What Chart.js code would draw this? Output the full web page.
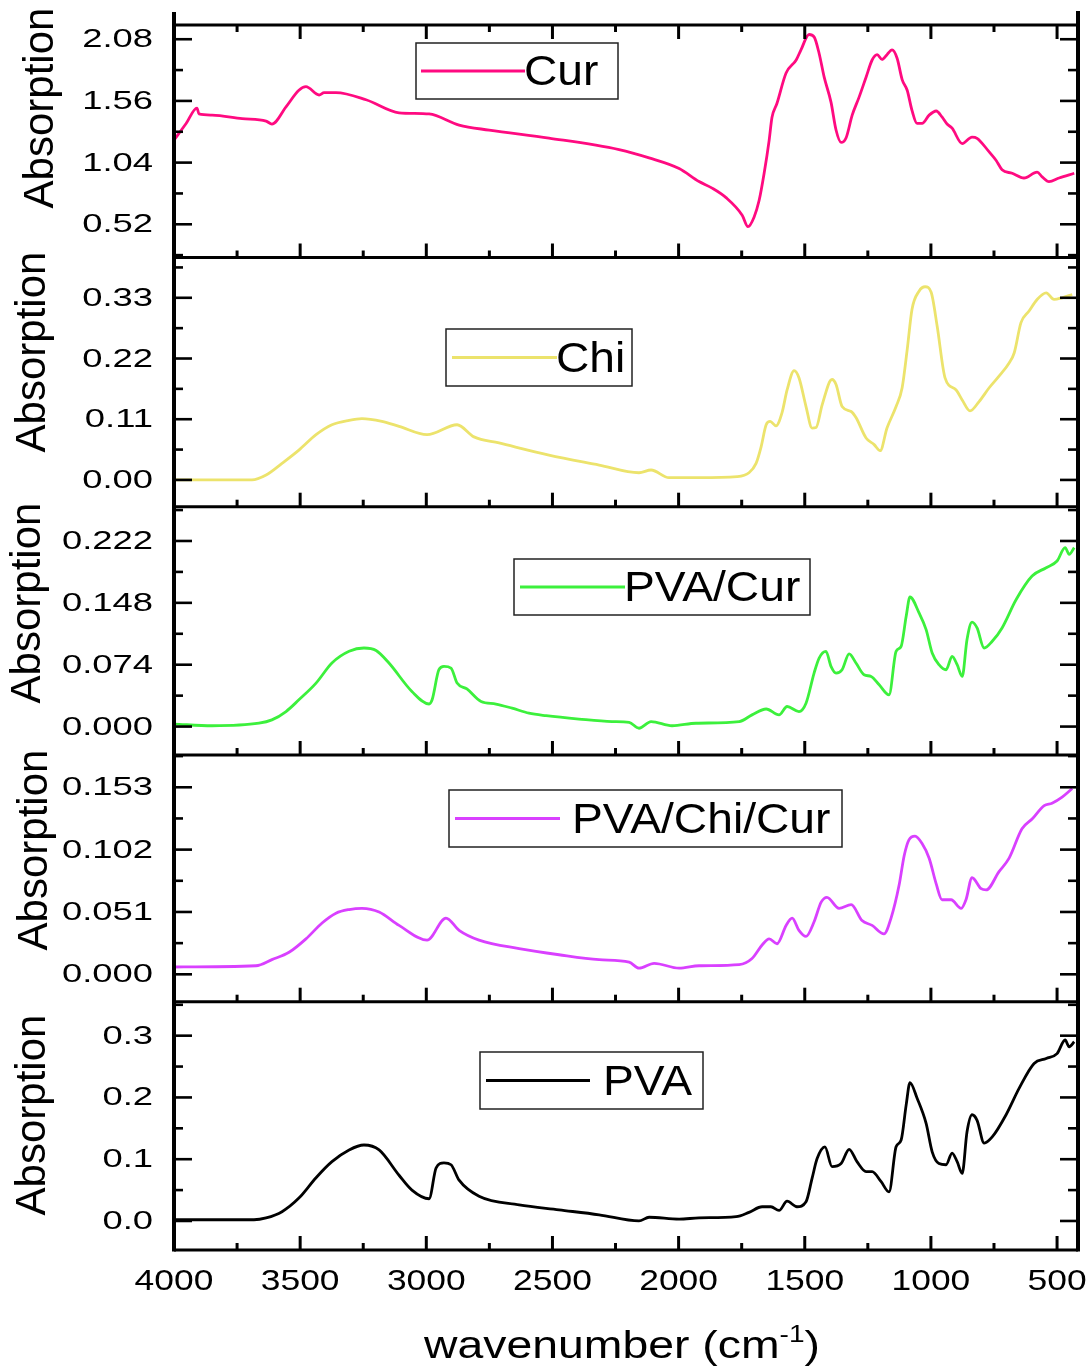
<!DOCTYPE html>
<html>
<head>
<meta charset="utf-8">
<script src="https://cdn.jsdelivr.net/npm/chart.js@4.4.1/dist/chart.umd.min.js"></script>
<style>
  html, body { margin: 0; padding: 0; background: #fff; }
  #wrap { width: 1091px; height: 1369px; }
</style>
</head>
<body>
<div id="wrap"><canvas id="ftir" width="1091" height="1369"></canvas></div>
<script>
// x axis (wavenumber, cm-1) ticks, shared by all panels
const wnTicks = [4000, 3500, 3000, 2500, 2000, 1500, 1000, 500];

// y tick values for each panel
const curTicks = [0.52, 1.04, 1.56, 2.08];
const chiTicks = [0.00, 0.11, 0.22, 0.33];
const pvaCurTicks = [0.000, 0.074, 0.148, 0.222];
const pvaChiCurTicks = [0.000, 0.051, 0.102, 0.153];
const pvaTicks = [0.0, 0.1, 0.2, 0.3];

// Cur spectrum
const curWn = [4000, 3952, 3909, 3901, 3849, 3730, 3635, 3612, 3556, 3505,
  3477, 3425, 3405, 3358, 3239, 3108, 2989, 2870, 2751, 2514,
  2236, 2117, 1998, 1919, 1867, 1812, 1748, 1725, 1701, 1681, 1661,
  1641, 1630, 1610, 1574, 1534, 1515, 1483, 1463, 1443, 1423,
  1396, 1376, 1356, 1336, 1312, 1285, 1257, 1233, 1213, 1194,
  1174, 1154, 1134, 1114, 1094, 1075, 1055, 1035, 1007, 979,
  956, 936, 916, 876, 837, 817, 769, 742, 718, 678,
  631, 579, 559, 532, 492, 432];
const curAbs = [1.23, 1.37, 1.50, 1.45, 1.44, 1.41, 1.39, 1.365, 1.51, 1.65,
  1.68, 1.61, 1.63, 1.63, 1.57, 1.46, 1.45, 1.356, 1.314, 1.247,
  1.15, 1.08, 0.99, 0.88, 0.825, 0.745, 0.597, 0.50, 0.58, 0.72, 0.95,
  1.23, 1.42, 1.54, 1.795, 1.905, 1.99, 2.12, 2.10, 1.96, 1.76,
  1.55, 1.315, 1.21, 1.25, 1.44, 1.59, 1.76, 1.905, 1.95, 1.91,
  1.95, 1.99, 1.92, 1.74, 1.65, 1.48, 1.37, 1.37, 1.44, 1.475,
  1.425, 1.365, 1.33, 1.20, 1.255, 1.245, 1.13, 1.06, 0.98, 0.95,
  0.91, 0.96, 0.92, 0.88, 0.91, 0.95];

// Chi spectrum
const chiWn = [4000, 3691, 3635, 3572, 3505, 3437, 3374, 3306, 3255, 3176,
  3108, 2997, 2878, 2811, 2712, 2514, 2315, 2157, 2109, 2038,
  1919, 1768, 1721, 1693, 1673, 1653, 1637, 1614, 1590, 1570,
  1542, 1523, 1495, 1471, 1455, 1431, 1392, 1376, 1352, 1316,
  1297, 1257, 1225, 1201, 1174, 1138, 1114, 1094, 1075, 1047,
  1023, 999, 975, 944, 900, 876, 845, 809, 769, 730,
  690, 670, 643, 611, 579, 543, 512, 480, 440];
const chiAbs = [0, 0, 0.009, 0.030, 0.054, 0.082, 0.100, 0.108, 0.111, 0.106,
  0.097, 0.082, 0.100, 0.078, 0.067, 0.045, 0.027, 0.013, 0.018, 0.004,
  0.004, 0.006, 0.013, 0.030, 0.060, 0.100, 0.106, 0.098, 0.122, 0.163,
  0.198, 0.185, 0.133, 0.094, 0.095, 0.136, 0.182, 0.173, 0.133, 0.124,
  0.113, 0.076, 0.064, 0.053, 0.094, 0.133, 0.167, 0.236, 0.309, 0.342,
  0.350, 0.340, 0.278, 0.185, 0.163, 0.145, 0.125, 0.142, 0.167, 0.188,
  0.212, 0.230, 0.285, 0.306, 0.327, 0.339, 0.327, 0.330, 0.336];

// PVA/Cur spectrum
const pvaCurWn = [4000, 3849, 3663, 3612, 3556, 3505, 3437, 3374, 3306, 3247,
  3199, 3148, 3057, 2989, 2977, 2950, 2930, 2902, 2878, 2839,
  2783, 2724, 2660, 2593, 2525, 2395, 2264, 2196, 2157, 2109,
  2026, 1931, 1760, 1709, 1653, 1602, 1570, 1523, 1495, 1463,
  1443, 1416, 1396, 1376, 1352, 1324, 1297, 1265, 1237, 1205,
  1166, 1138, 1118, 1098, 1083, 1047, 1019, 995, 968, 940,
  916, 896, 876, 857, 837, 817, 789, 757, 718, 662,
  599, 543, 500, 468, 452, 432];
const pvaCurAbs = [0.003, 0.001, 0.004, 0.008, 0.018, 0.032, 0.052, 0.076, 0.090, 0.094,
  0.091, 0.076, 0.042, 0.027, 0.032, 0.068, 0.072, 0.070, 0.052, 0.045,
  0.030, 0.027, 0.022, 0.016, 0.013, 0.009, 0.006, 0.005, -0.002, 0.006,
  0.001, 0.004, 0.006, 0.014, 0.021, 0.014, 0.024, 0.018, 0.028, 0.064,
  0.082, 0.090, 0.072, 0.064, 0.068, 0.087, 0.076, 0.062, 0.060, 0.050,
  0.038, 0.090, 0.096, 0.132, 0.155, 0.136, 0.116, 0.088, 0.074, 0.068,
  0.084, 0.074, 0.060, 0.104, 0.125, 0.118, 0.094, 0.102, 0.118, 0.152,
  0.180, 0.190, 0.198, 0.214, 0.206, 0.214];

// PVA/Chi/Cur spectrum
const pvaChiCurWn = [4000, 3675, 3612, 3544, 3477, 3413, 3358, 3306, 3255, 3187,
  3108, 2997, 2922, 2870, 2791, 2632, 2474, 2315, 2196, 2157,
  2097, 1998, 1919, 1760, 1709, 1669, 1641, 1610, 1574, 1550,
  1523, 1495, 1463, 1435, 1412, 1364, 1316, 1273, 1233, 1186,
  1158, 1126, 1106, 1087, 1063, 1035, 1007, 979, 956, 920,
  880, 861, 837, 801, 781, 730, 690, 639, 599, 551,
  520, 480, 440];
const pvaChiCurAbs = [0.006, 0.007, 0.012, 0.018, 0.029, 0.042, 0.050, 0.053, 0.054, 0.051,
  0.040, 0.028, 0.046, 0.036, 0.028, 0.021, 0.016, 0.012, 0.010, 0.005,
  0.009, 0.005, 0.007, 0.008, 0.013, 0.024, 0.029, 0.025, 0.040, 0.046,
  0.036, 0.031, 0.043, 0.059, 0.063, 0.054, 0.057, 0.044, 0.040, 0.033,
  0.046, 0.073, 0.097, 0.110, 0.113, 0.107, 0.095, 0.074, 0.061, 0.061,
  0.054, 0.061, 0.079, 0.070, 0.069, 0.084, 0.095, 0.119, 0.127, 0.138,
  0.140, 0.145, 0.152];

// PVA spectrum
const pvaWn = [4000, 3683, 3635, 3572, 3505, 3437, 3374, 3306, 3247, 3187,
  3108, 3057, 2989, 2961, 2930, 2902, 2870, 2791, 2632, 2474,
  2315, 2157, 2117, 1998, 1919, 1772, 1721, 1669, 1634, 1602,
  1570, 1531, 1495, 1471, 1451, 1420, 1392, 1356, 1324, 1293,
  1257, 1233, 1198, 1166, 1138, 1118, 1098, 1083, 1055, 1019,
  995, 968, 940, 916, 896, 876, 857, 837, 817, 789,
  757, 702, 650, 591, 543, 500, 468, 452, 432];
const pvaAbs = [0.002, 0.002, 0.005, 0.015, 0.037, 0.070, 0.096, 0.115, 0.123, 0.115,
  0.074, 0.050, 0.036, 0.086, 0.094, 0.091, 0.066, 0.040, 0.026, 0.018,
  0.010, 0.000, 0.006, 0.003, 0.005, 0.007, 0.014, 0.023, 0.023, 0.017,
  0.032, 0.023, 0.031, 0.069, 0.101, 0.120, 0.088, 0.093, 0.116, 0.096,
  0.080, 0.080, 0.064, 0.047, 0.120, 0.131, 0.188, 0.224, 0.199, 0.158,
  0.112, 0.093, 0.091, 0.110, 0.096, 0.077, 0.144, 0.172, 0.163, 0.126,
  0.136, 0.172, 0.215, 0.255, 0.263, 0.271, 0.293, 0.282, 0.290];

const FONT = '"Liberation Sans", Arial, sans-serif';

// one stacked y axis per panel, top to bottom
const panels = [
  { id: "y1", ticks: curTicks, digits: 2, min: 0.24, max: 2.20, weight: 232.5, titleAt: [53, 108] },
  { id: "y2", ticks: chiTicks, digits: 2, min: -0.0485, max: 0.403, weight: 249.2, titleAt: [45, 352] },
  { id: "y3", ticks: pvaCurTicks, digits: 3, min: -0.034, max: 0.263, weight: 248.3, titleAt: [40, 603] },
  { id: "y4", ticks: pvaChiCurTicks, digits: 3, min: -0.0224, max: 0.1794, weight: 246.7, titleAt: [47, 850] },
  { id: "y5", ticks: pvaTicks, digits: 1, min: -0.047, max: 0.355, weight: 248.3, titleAt: [45, 1115] },
];

// legend boxes drawn inside each panel
const legendBoxes = [
  { left: 416, top: 43, right: 618, bottom: 99, lineFrom: 421, lineTo: 525, textX: 524 },
  { left: 446, top: 329, right: 632, bottom: 386, lineFrom: 452, lineTo: 557, textX: 556 },
  { left: 514, top: 559, right: 810, bottom: 615, lineFrom: 520, lineTo: 625, textX: 624 },
  { left: 449, top: 790, right: 842, bottom: 847, lineFrom: 455, lineTo: 560, textX: 572 },
  { left: 480, top: 1052, right: 703, bottom: 1109, lineFrom: 486, lineTo: 590, textX: 603 },
];

function toPoints(wn, abs) {
  const n = Math.min(wn.length, abs.length);
  const pts = [];
  for (let i = 0; i < n; i++) pts.push({ x: wn[i], y: abs[i] });
  return pts;
}

function strokeLine(ctx, x1, y1, x2, y2) {
  ctx.beginPath();
  ctx.moveTo(x1, y1);
  ctx.lineTo(x2, y2);
  ctx.stroke();
}

/** Origin exports look horizontally stretched, so text gets a scaleX. */
function stretchedText(ctx, text, x, y, sx, align) {
  ctx.save();
  ctx.translate(x, y);
  ctx.scale(sx, 1);
  ctx.textAlign = align;
  ctx.fillText(text, 0, 0);
  ctx.restore();
}

function minorValues(ticks, min, max) {
  const step = ticks[1] - ticks[0];
  const out = [];
  for (let v = ticks[0] - step / 2; v <= max + 1e-9; v += step) {
    if (v >= min - 1e-9) out.push(v);
  }
  return out;
}

const framePlugin = {
  id: "ftirFrame",
  afterDraw(chart) {
    const { ctx, chartArea: a, scales } = chart;
    const xs = scales.x;
    ctx.save();
    ctx.strokeStyle = "#000";
    ctx.fillStyle = "#000";
    ctx.lineCap = "butt";

    // side axes run a bit above the top frame, as in the original
    ctx.lineWidth = 4;
    strokeLine(ctx, a.left, a.top - 13, a.left, a.bottom + 1.5);
    strokeLine(ctx, a.right, a.top - 14, a.right, a.bottom + 1.5);

    const xMinor = [];
    for (let i = 0; i < wnTicks.length - 1; i++) xMinor.push((wnTicks[i] + wnTicks[i + 1]) / 2);

    panels.forEach((p, i) => {
      const ys = scales[p.id];
      ctx.lineWidth = 3;
      strokeLine(ctx, a.left, ys.bottom, a.right, ys.bottom);
      if (i === 0) strokeLine(ctx, a.left, ys.top, a.right, ys.top);

      // x ticks, pointing inward
      wnTicks.forEach((v) => {
        const px = xs.getPixelForValue(v);
        strokeLine(ctx, px, ys.bottom, px, ys.bottom - 14);
        if (i === 0) strokeLine(ctx, px, ys.top, px, ys.top + 14);
      });
      xMinor.forEach((v) => {
        const px = xs.getPixelForValue(v);
        strokeLine(ctx, px, ys.bottom, px, ys.bottom - 7);
        if (i === 0) strokeLine(ctx, px, ys.top, px, ys.top + 7);
      });

      // y ticks on both sides
      ctx.lineWidth = 2.6;
      ys.ticks.forEach((t) => {
        const py = ys.getPixelForValue(t.value);
        strokeLine(ctx, a.left, py, a.left + 18, py);
        strokeLine(ctx, a.right, py, a.right - 18, py);
      });
      minorValues(p.ticks, p.min, p.max).forEach((v) => {
        const py = ys.getPixelForValue(v);
        strokeLine(ctx, a.left, py, a.left + 9, py);
        strokeLine(ctx, a.right, py, a.right - 10, py);
      });

      // y tick labels
      ctx.font = `26px ${FONT}`;
      ys.ticks.forEach((t) => {
        const py = ys.getPixelForValue(t.value);
        stretchedText(ctx, t.value.toFixed(p.digits), 153, py + 8, 1.4, "right");
      });

      // y title
      ctx.save();
      ctx.font = `42px ${FONT}`;
      ctx.translate(p.titleAt[0], p.titleAt[1]);
      ctx.rotate(-Math.PI / 2);
      ctx.textAlign = "center";
      ctx.fillText("Absorption", 0, 0);
      ctx.restore();
    });

    // x tick labels
    ctx.font = `30px ${FONT}`;
    xs.ticks.forEach((t) => {
      const px = xs.getPixelForValue(t.value);
      stretchedText(ctx, String(t.value), px, 1290, 1.18, "center");
    });

    // x title with superscript
    const sx = 1.22;
    ctx.font = `38px ${FONT}`;
    const w1 = ctx.measureText("wavenumber (cm").width;
    const w3 = ctx.measureText(")").width;
    ctx.font = `23px ${FONT}`;
    const w2 = ctx.measureText("-1").width;
    const total = (w1 + w2 + w3) * sx;
    ctx.save();
    ctx.translate(622 - total / 2, 1358);
    ctx.scale(sx, 1);
    ctx.textAlign = "left";
    ctx.font = `38px ${FONT}`;
    ctx.fillText("wavenumber (cm", 0, 0);
    ctx.font = `23px ${FONT}`;
    ctx.fillText("-1", w1, -16);
    ctx.font = `38px ${FONT}`;
    ctx.fillText(")", w1 + w2, 0);
    ctx.restore();

    // legends
    chart.data.datasets.forEach((ds, i) => {
      const b = legendBoxes[i];
      const cy = (b.top + b.bottom) / 2;
      ctx.fillStyle = "#fff";
      ctx.fillRect(b.left, b.top, b.right - b.left, b.bottom - b.top);
      ctx.strokeStyle = "#222";
      ctx.lineWidth = 1.5;
      ctx.strokeRect(b.left, b.top, b.right - b.left, b.bottom - b.top);
      ctx.strokeStyle = ds.borderColor;
      ctx.lineWidth = 3;
      strokeLine(ctx, b.lineFrom, cy, b.lineTo, cy);
      ctx.fillStyle = "#000";
      ctx.font = `42px ${FONT}`;
      stretchedText(ctx, ds.label, b.textX, cy + 14, 1.1, "left");
    });

    ctx.restore();
  },
};

const yScales = {};
panels.forEach((p, i) => {
  yScales[p.id] = {
    type: "linear",
    position: "left",
    stack: "panels",
    stackWeight: p.weight,
    weight: panels.length - i,
    min: p.min,
    max: p.max,
    ticks: { display: false },
    grid: { display: false },
    border: { display: false },
    afterBuildTicks: (s) => { s.ticks = p.ticks.map((v) => ({ value: v })); },
    afterFit: (s) => { s.width = 174; },
  };
});

const lineStyle = {
  pointRadius: 0,
  borderWidth: 2.8,
  fill: false,
  cubicInterpolationMode: "monotone",
  borderJoinStyle: "round",
};

new Chart(document.getElementById("ftir"), {
  type: "line",
  data: {
    datasets: [
      { label: "Cur", data: toPoints(curWn, curAbs), yAxisID: "y1", borderColor: "#ff0a80", ...lineStyle },
      { label: "Chi", data: toPoints(chiWn, chiAbs), yAxisID: "y2", borderColor: "#ece36c", ...lineStyle },
      { label: "PVA/Cur", data: toPoints(pvaCurWn, pvaCurAbs), yAxisID: "y3", borderColor: "#3cf03c", ...lineStyle },
      { label: "PVA/Chi/Cur", data: toPoints(pvaChiCurWn, pvaChiCurAbs), yAxisID: "y4", borderColor: "#d940ff", ...lineStyle },
      { label: "PVA", data: toPoints(pvaWn, pvaAbs), yAxisID: "y5", borderColor: "#000000", ...lineStyle },
    ],
  },
  options: {
    responsive: false,
    animation: false,
    devicePixelRatio: 1,
    layout: { padding: { top: 25, right: 13, left: 0, bottom: 0 } },
    plugins: { legend: { display: false }, tooltip: { enabled: false } },
    scales: {
      x: {
        type: "linear",
        position: "bottom",
        reverse: true,
        min: 417,
        max: 4000,
        ticks: { display: false },
        grid: { display: false },
        border: { display: false },
        afterBuildTicks: (s) => { s.ticks = wnTicks.map((v) => ({ value: v })); },
        afterFit: (s) => { s.height = 119; },
      },
      ...yScales,
    },
  },
  plugins: [framePlugin],
});
</script>
</body>
</html>
